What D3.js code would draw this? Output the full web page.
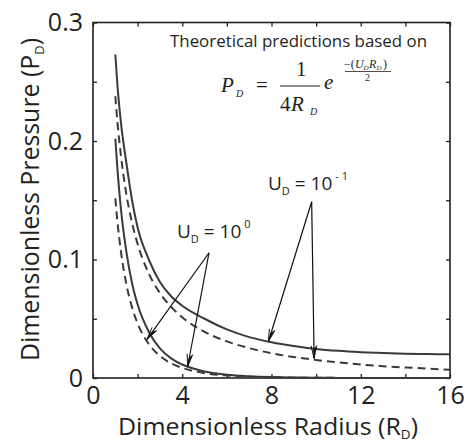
<!DOCTYPE html>
<html><head><meta charset="utf-8">
<script src="https://cdn.jsdelivr.net/npm/d3@7"></script>
<style>
body{margin:0;background:#fff;}
text{fill:#231f20;}
</style></head>
<body><svg id="c" width="470" height="442"></svg>
<script>
// ---- data ----
const radius = [1, 1.1, 1.25, 1.5, 1.75, 2, 2.5, 3, 3.5, 4, 5, 6, 7, 8, 9, 10, 11, 12, 13, 14, 15, 16];
const solidU01 = [0.273, 0.246, 0.216, 0.181, 0.150, 0.127, 0.100, 0.081, 0.069, 0.061, 0.050, 0.041, 0.0345, 0.0302, 0.027, 0.0245, 0.0229, 0.0218, 0.021, 0.0205, 0.0202, 0.020];
const dashedU01 = [0.2378, 0.2151, 0.1879, 0.1546, 0.1309, 0.1131, 0.0882, 0.0717, 0.0600, 0.0512, 0.0389, 0.0309, 0.0252, 0.0209, 0.0177, 0.0152, 0.0131, 0.0114, 0.0100, 0.0089, 0.0079, 0.0070];
const solidU1 = [0.202, 0.175, 0.143, 0.106, 0.080, 0.062, 0.039, 0.025, 0.0166, 0.0114, 0.0055, 0.0028, 0.0015, 0.0008, 0.0004, 0.0002, 0.0001, 0.00007, 0.00004, 0.00002, 0.00001, 0.00001];
const dashedU1 = [0.1516, 0.1311, 0.1071, 0.0787, 0.0596, 0.0460, 0.0287, 0.0186, 0.0124, 0.0085, 0.0041, 0.0021, 0.0011, 0.0006, 0.0003, 0.0002, 0.0001, 0.00005, 0.00003, 0.00002, 0.00001, 0.00001];
const xTicks = [0, 2, 4, 6, 8, 10, 12, 14, 16];
const xTickLabels = [0, 4, 8, 12, 16];
const yTicks = [0, 0.05, 0.1, 0.15, 0.2, 0.25, 0.3];
const yTickLabels = [0, 0.1, 0.2, 0.3];
// annotation arrows (data coordinates): [from, to]
const arrowsU1 = [[[5.2, 0.1057], [2.42, 0.0326]], [[5.2, 0.1057], [4.24, 0.0095]]];
const arrowsU01 = [[[9.8, 0.1487], [7.86, 0.0306]], [[9.8, 0.1487], [9.91, 0.0165]]];

// ---- layout ----
const svg = d3.select("#c");
const L = 93, Rr = 450, T = 22.5, B = 378;
const x = d3.scaleLinear().domain([0, 16]).range([L, Rr]);
const y = d3.scaleLinear().domain([0, 0.3]).range([B, T]);
const ink = "#231f20";
const SANS = "'Open Sans', sans-serif";
const SERIF = "'Liberation Serif', 'DejaVu Serif', serif";

// axes
const fmtY = d => yTickLabels.some(v => Math.abs(v - d) < 1e-9) ? (d === 0 ? "0" : d3.format(".1f")(d)) : "";
const fmtX = d => xTickLabels.includes(d) ? String(d) : "";
const gx = svg.append("g").attr("transform", `translate(0,${B})`)
  .call(d3.axisBottom(x).tickValues(xTicks).tickSizeInner(-4).tickSizeOuter(0).tickPadding(8).tickFormat(fmtX));
const gy = svg.append("g").attr("transform", `translate(${L},0)`)
  .call(d3.axisLeft(y).tickValues(yTicks).tickSizeInner(-4).tickSizeOuter(0).tickPadding(10).tickFormat(fmtY));
const gt = svg.append("g").attr("transform", `translate(0,${T})`)
  .call(d3.axisTop(x).tickValues(xTicks).tickSizeInner(-4).tickSizeOuter(0).tickFormat(""));
const gr = svg.append("g").attr("transform", `translate(${Rr},0)`)
  .call(d3.axisRight(y).tickValues(yTicks).tickSizeInner(-4).tickSizeOuter(0).tickFormat(""));
[gx, gy, gt, gr].forEach(g => {
  g.select(".domain").remove();
  g.selectAll("line").attr("stroke", ink).attr("stroke-width", 1.3);
  g.selectAll("text").style("font-family", SANS).style("font-size", "25px").attr("fill", ink);
});
svg.append("rect").attr("x", L).attr("y", T).attr("width", Rr - L).attr("height", B - T)
  .attr("fill", "none").attr("stroke", ink).attr("stroke-width", 1.6);

// curves
const line = d3.line().x(d => x(d[0])).y(d => y(d[1])).curve(d3.curveMonotoneX);
const series = [
  {v: solidU01, dash: null},
  {v: dashedU01, dash: "8,5"},
  {v: solidU1, dash: null},
  {v: dashedU1, dash: "8,5"}
];
series.forEach(s => {
  svg.append("path").datum(radius.map((r, i) => [r, s.v[i]]))
    .attr("d", line).attr("fill", "none").attr("stroke", "#3a3a3a").attr("stroke-width", 2)
    .attr("stroke-dasharray", s.dash);
});

// arrows
function arrow(a) {
  const x1 = x(a[0][0]), y1 = y(a[0][1]), x2 = x(a[1][0]), y2 = y(a[1][1]);
  svg.append("line").attr("x1", x1).attr("y1", y1).attr("x2", x2).attr("y2", y2)
    .attr("stroke", "#111").attr("stroke-width", 1.2);
  const ang = Math.atan2(y1 - y2, x1 - x2), len = 13, spread = 0.22;
  const p1 = [x2 + len * Math.cos(ang + spread), y2 + len * Math.sin(ang + spread)];
  const p2 = [x2 + len * Math.cos(ang - spread), y2 + len * Math.sin(ang - spread)];
  const pm = [x2 + len * 0.7 * Math.cos(ang), y2 + len * 0.7 * Math.sin(ang)];
  svg.append("path").attr("d", `M${p1}L${x2},${y2}L${pm}Z`).attr("fill", "#111").attr("stroke", "#111").attr("stroke-width", 0.8);
  svg.append("path").attr("d", `M${p2}L${x2},${y2}`).attr("fill", "none").attr("stroke", "#111").attr("stroke-width", 1);
}
arrowsU1.forEach(arrow);
arrowsU01.forEach(arrow);

// U labels
function ulabel(px, py, exp) {
  const t = svg.append("text").attr("x", px).attr("y", py).style("font-family", SANS).style("font-size", "19px");
  t.append("tspan").text("U");
  t.append("tspan").style("font-size", "11px").attr("dy", 5).text("D");
  t.append("tspan").attr("dy", -5).text(" = 10");
  t.append("tspan").style("font-size", "11px").attr("dy", -10).attr("dx", 3).text(exp);
}
ulabel(177, 238, "0");
ulabel(268, 190, "- 1");

// annotation
svg.append("text").attr("x", 170).attr("y", 47).style("font-family", SANS).style("font-size", "16.5px")
  .attr("textLength", 257).attr("lengthAdjust", "spacingAndGlyphs")
  .text("Theoretical predictions based on");

// equation
function et(px, py, s, txt, it) {
  svg.append("text").attr("x", px).attr("y", py)
    .style("font-family", SERIF).style("font-size", s + "px")
    .style("font-style", it ? "italic" : "normal").text(txt);
}
et(221, 92, 21, "P", true);
et(236, 97, 10, "D", true);
et(256, 92, 21, "=", false);
et(296, 76, 21, "1", false);
svg.append("line").attr("x1", 280).attr("x2", 320).attr("y1", 86).attr("y2", 86).attr("stroke", ink).attr("stroke-width", 1);
et(280, 111, 21, "4", false);
et(291, 111, 21, "R", true);
et(310, 115, 10, "D", true);
et(324, 89, 21, "e", true);
et(344, 68, 12, "−(", false);
et(355, 68, 12, "U", true);
et(363.5, 70, 7, "D", true);
et(369, 68, 12, "R", true);
et(376.5, 70, 7, "D", true);
et(383, 68, 12, ")", false);
svg.append("line").attr("x1", 345).attr("x2", 391).attr("y1", 71.5).attr("y2", 71.5).attr("stroke", ink).attr("stroke-width", 0.8);
et(365, 81, 10, "2", false);

// axis titles
svg.append("text").attr("x", 118).attr("y", 435).style("font-family", SANS).style("font-size", "24px")
  .attr("textLength", 300).attr("lengthAdjust", "spacingAndGlyphs")
  .call(t => {
    t.append("tspan").text("Dimensionless Radius (R");
    t.append("tspan").style("font-size", "13px").attr("dy", 4).text("D");
    t.append("tspan").attr("dy", -4).text(")");
  });
svg.append("text").attr("transform", "translate(39,361) rotate(-90)").style("font-family", SANS).style("font-size", "25px")
  .attr("textLength", 323).attr("lengthAdjust", "spacingAndGlyphs")
  .call(t => {
    t.append("tspan").text("Dimensionless Pressure (P");
    t.append("tspan").style("font-size", "13px").attr("dy", 5).text("D");
    t.append("tspan").attr("dy", -5).text(")");
  });
</script></body></html>
